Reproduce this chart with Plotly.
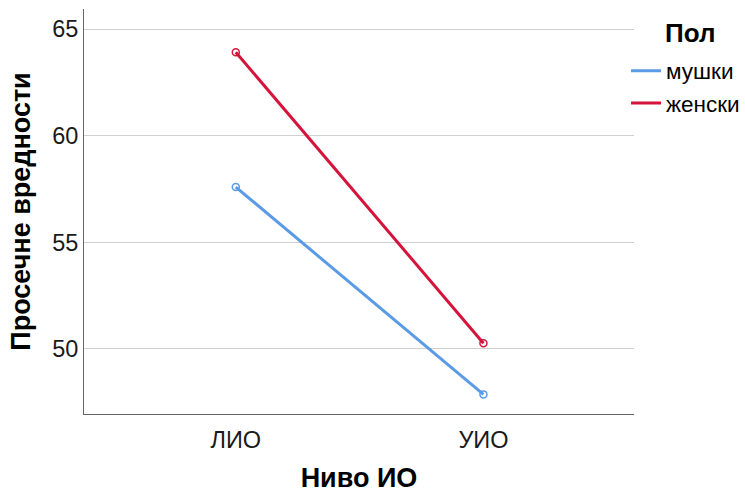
import plotly.graph_objects as go

categories = ["ЛИО", "УИО"]
series_names = ["мушки", "женски"]
male_values = [57.59, 47.87]
female_values = [63.91, 50.27]
y_ticks = [50, 55, 60, 65]

colors = ["#5B9BE6", "#D5133B"]
FONT = "Liberation Sans, Arial, sans-serif"

fig = go.Figure()
for name, vals, col in zip(series_names, [male_values, female_values], colors):
    fig.add_trace(go.Scatter(
        x=categories, y=vals, name=name, mode="lines+markers", showlegend=False,
        line=dict(color=col, width=3),
        marker=dict(symbol="circle-open", size=7, color=col, line=dict(width=1.5, color=col)),
    ))
    # legend entry (line only)
    fig.add_trace(go.Scatter(
        x=[None], y=[None], name=name, mode="lines",
        line=dict(color=col, width=3), showlegend=True,
    ))

fig.update_layout(
    width=745, height=493,
    margin=dict(l=84, r=111, t=9, b=79, autoexpand=False),
    plot_bgcolor="white", paper_bgcolor="white",
    font=dict(family=FONT, color="#1a1a1a", size=23.5),
    showlegend=True,
    legend=dict(
        x=0.9855, xanchor="left", y=0.90, yanchor="top",
        font=dict(size=22.5, family=FONT, color="#000"),
        tracegroupgap=0, itemwidth=30, bgcolor="rgba(0,0,0,0)",
    ),
    xaxis=dict(
        type="category", range=[-0.613, 1.608],
        showgrid=False, showline=True, linecolor="#666", linewidth=1,
        ticks="", tickfont=dict(size=23.5, color="#1a1a1a"), ticklabelstandoff=5,
        title=dict(text="<b>Ниво ИО</b>", font=dict(size=27, color="#000"), standoff=18),
        zeroline=False,
    ),
    yaxis=dict(
        range=[46.95, 65.94], tickvals=y_ticks,
        showgrid=True, gridcolor="#d0d0d0", gridwidth=1.3,
        showline=True, linecolor="#666", linewidth=1,
        ticks="", tickfont=dict(size=23.5, color="#1a1a1a"),
        title=dict(text="<b>Просечне вредности</b>", font=dict(size=27, color="#000"), standoff=13),
        zeroline=False,
    ),
    annotations=[dict(
        text="<b>Пол</b>", xref="paper", yref="paper",
        x=(663 - 84) / 550, y=(414 - 33) / 405, xanchor="left", yanchor="middle",
        showarrow=False, font=dict(size=26, family=FONT, color="#000"),
    )],
)

fig.write_html(
    "out.html",
    config={"displayModeBar": False},
    post_script="document.body.style.margin='0';document.body.style.overflow='hidden';",
)
